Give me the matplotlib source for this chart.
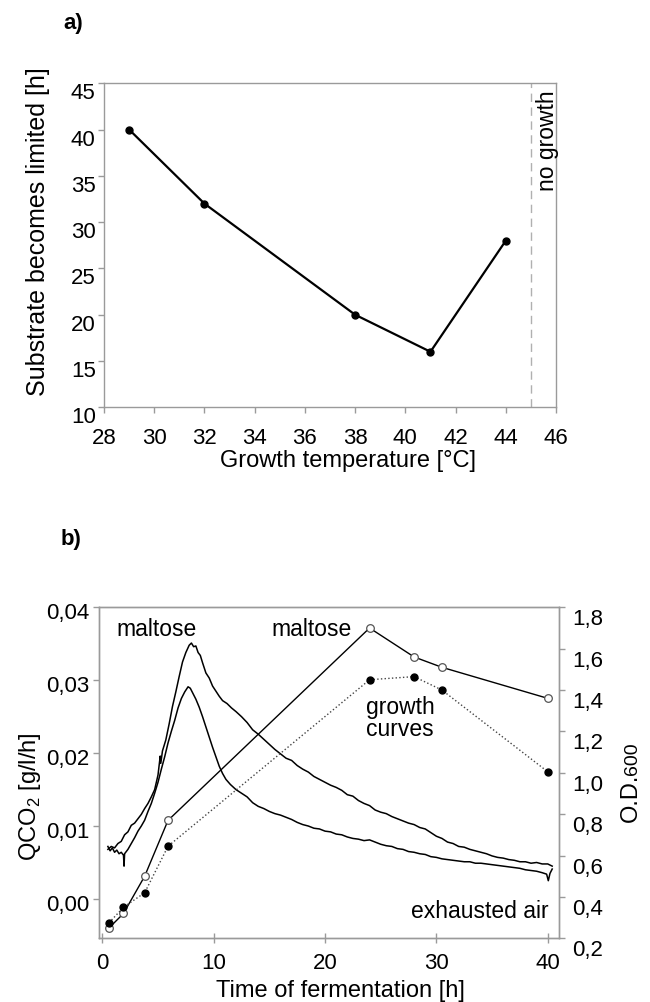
import numpy as np
import matplotlib
matplotlib.use('Agg')
import matplotlib.pyplot as plt
from matplotlib.transforms import ScaledTranslation

plt.rcParams['font.family'] = ['Liberation Sans', 'DejaVu Sans']
plt.rcParams['mathtext.fontset'] = 'custom'
plt.rcParams['mathtext.rm'] = 'Liberation Sans'

# ---- panel a data ----
temp = [29, 32, 38, 41, 44]
limit_h = [40, 32, 20, 16, 28]
temp_ticks = list(range(28, 47, 2))
limit_ticks = list(range(10, 46, 5))

# ---- panel b data: O.D. growth curves ----
od_t_open = [0.6, 1.9, 3.8, 5.9, 24.0, 28.0, 30.5, 40.0]
od_open = [0.25, 0.32, 0.50, 0.77, 1.70, 1.56, 1.51, 1.36]
od_t_fill = [0.6, 1.9, 3.8, 5.9, 24.0, 28.0, 30.5, 40.0]
od_fill = [0.275, 0.35, 0.42, 0.645, 1.45, 1.465, 1.40, 1.005]

# ---- panel b data: QCO2 traces ----
q_upper_t = [0.5, 0.8, 1.1, 1.4, 1.7, 2.0, 2.3, 2.6, 2.9, 3.2, 3.5, 3.8, 4.1, 4.4,
             4.7, 5.0, 5.2, 5.25, 5.4, 5.7, 6.0, 6.3, 6.6, 6.9, 7.2, 7.5, 7.8, 8.0,
             8.2, 8.4, 8.6, 8.8, 9.0, 9.3, 9.6, 9.9, 10.2, 10.5, 10.8, 11.2, 11.6,
             12.0, 12.5, 13.0, 13.5, 14.0, 14.5, 15.0, 15.5, 16.0, 16.5, 17.0, 17.5,
             18.0, 18.5, 19.0, 19.5, 20.0, 20.5, 21.0, 21.5, 22.0, 22.5, 23.0, 23.5,
             24.0, 24.5, 25.0, 25.5, 26.0, 26.5, 27.0, 27.5, 28.0, 28.5, 29.0, 29.5,
             30.0, 30.5, 31.0, 31.5, 32.0, 32.5, 33.0, 33.5, 34.0, 34.5, 35.0, 35.5,
             36.0, 36.5, 37.0, 37.5, 38.0, 38.5, 39.0, 39.5, 40.0, 40.4]
q_upper = [0.0068, 0.0072, 0.0070, 0.0076, 0.0079, 0.0088, 0.0092, 0.0101, 0.0104,
           0.0110, 0.0116, 0.0124, 0.0131, 0.0140, 0.0150, 0.0170, 0.0196, 0.0186,
           0.0203, 0.0218, 0.0240, 0.0264, 0.0284, 0.0305, 0.0325, 0.0338, 0.0348,
           0.0351, 0.0346, 0.0347, 0.0338, 0.0334, 0.0324, 0.0310, 0.0303, 0.0292,
           0.0285, 0.0278, 0.0272, 0.0268, 0.0262, 0.0257, 0.0250, 0.0242, 0.0232,
           0.0226, 0.0219, 0.0212, 0.0205, 0.0199, 0.0193, 0.0190, 0.0183, 0.0178,
           0.0174, 0.0168, 0.0164, 0.0160, 0.0156, 0.0153, 0.0149, 0.0143, 0.0141,
           0.0135, 0.0131, 0.0128, 0.0122, 0.0119, 0.0117, 0.0113, 0.0110, 0.0107,
           0.0104, 0.0102, 0.0098, 0.0096, 0.0091, 0.0086, 0.0083, 0.0078, 0.0076,
           0.0072, 0.0071, 0.0068, 0.0066, 0.0064, 0.0062, 0.0059, 0.0057, 0.0056,
           0.0054, 0.0053, 0.0051, 0.0051, 0.0049, 0.0050, 0.0048, 0.0048, 0.0045]

q_lower_t = [0.5, 0.7, 0.9, 1.1, 1.3, 1.5, 1.7, 1.9, 1.95, 2.0, 2.3, 2.6, 2.9, 3.2,
             3.5, 3.8, 4.1, 4.4, 4.7, 5.0, 5.3, 5.6, 5.9, 6.2, 6.5, 6.8, 7.1, 7.4,
             7.7, 7.9, 8.1, 8.4, 8.7, 9.0, 9.3, 9.6, 9.9, 10.2, 10.5, 10.8, 11.1,
             11.5, 12.0, 12.5, 13.0, 13.5, 14.0, 14.5, 15.0, 15.5, 16.0, 16.5, 17.0,
             17.5, 18.0, 18.5, 19.0, 19.5, 20.0, 20.5, 21.0, 21.5, 22.0, 22.5, 23.0,
             23.5, 24.0, 24.5, 25.0, 25.5, 26.0, 26.5, 27.0, 27.5, 28.0, 28.5, 29.0,
             29.5, 30.0, 30.5, 31.0, 31.5, 32.0, 32.5, 33.0, 33.5, 34.0, 34.5, 35.0,
             35.5, 36.0, 36.5, 37.0, 37.5, 38.0, 38.5, 39.0, 39.5, 39.9, 40.05, 40.2,
             40.4]
q_lower = [0.0072, 0.0066, 0.0070, 0.0064, 0.0067, 0.0062, 0.0064, 0.0060, 0.0045,
           0.0062, 0.0068, 0.0076, 0.0084, 0.0093, 0.0100, 0.0108, 0.0120, 0.0131,
           0.0145, 0.0160, 0.0178, 0.0195, 0.0214, 0.0230, 0.0245, 0.0262, 0.0275,
           0.0284, 0.0291, 0.0289, 0.0283, 0.0274, 0.0263, 0.0250, 0.0236, 0.0222,
           0.0208, 0.0195, 0.0182, 0.0172, 0.0164, 0.0157, 0.0150, 0.0145, 0.0140,
           0.0132, 0.0127, 0.0124, 0.0120, 0.0117, 0.0115, 0.0112, 0.0109, 0.0105,
           0.0102, 0.0100, 0.0097, 0.0096, 0.0093, 0.0092, 0.0089, 0.0088, 0.0085,
           0.0083, 0.0082, 0.0080, 0.0081, 0.0078, 0.0075, 0.0073, 0.0072, 0.0069,
           0.0068, 0.0065, 0.0064, 0.0062, 0.0061, 0.0058, 0.0057, 0.0055, 0.0054,
           0.0053, 0.0052, 0.0051, 0.0051, 0.0049, 0.0049, 0.0048, 0.0047, 0.0046,
           0.0045, 0.0044, 0.0043, 0.0042, 0.0040, 0.0039, 0.0038, 0.0036, 0.0034,
           0.0025, 0.0035, 0.0041]

time_ticks = [0, 10, 20, 30, 40]
q_ticks = [0.0, 0.01, 0.02, 0.03, 0.04]
q_ticklabels = ['0,00', '0,01', '0,02', '0,03', '0,04']
od_ticks = [0.2, 0.4, 0.6, 0.8, 1.0, 1.2, 1.4, 1.6, 1.8]
od_ticklabels = ['0,2', '0,4', '0,6', '0,8', '1,0', '1,2', '1,4', '1,6', '1,8']

FS_TICK = 16
FS_TXT = 16.5
FS_LAB = 17
GRAY = '#9a9a9a'

fig = plt.figure(figsize=(6.5, 10.03), dpi=100)


def style_spines(ax):
    for s in ax.spines.values():
        s.set_color(GRAY)
        s.set_linewidth(1.0)


def shift_labels(labels, dy_px):
    off = ScaledTranslation(0, -dy_px / 100.0, fig.dpi_scale_trans)
    for lab in labels:
        lab.set_transform(lab.get_transform() + off)


# ---------------- panel a ----------------
ax1 = fig.add_axes([0.160, 0.5929, 0.6954, 0.3231])
ax1.plot(temp, limit_h, '-o', color='black', lw=1.6, ms=5, zorder=3)
ax1.axvline(45, color='#b0b0b0', lw=1.0, ls=(0, (6, 4)))
ax1.text(45.2, 44.3, 'no growth', rotation=90, ha='left', va='top', fontsize=FS_TXT)
ax1.set_xlim(28, 46)
ax1.set_ylim(10, 45)
ax1.set_xticks(temp_ticks)
ax1.set_yticks(limit_ticks)
ax1.tick_params(axis='both', labelsize=FS_TICK, color=GRAY, length=4, width=1)
ax1.tick_params(axis='x', pad=10)
ax1.tick_params(axis='y', pad=2)
style_spines(ax1)
ax1.set_xlabel('Growth temperature [°C]', fontsize=FS_LAB)
ax1.xaxis.set_label_coords(0.54, -0.13)
ax1.set_ylabel('Substrate becomes limited [h]', fontsize=18)
ax1.yaxis.set_label_coords(-0.12, 0.545)
shift_labels(ax1.get_yticklabels(), 7)

# ---------------- panel b ----------------
ax2 = fig.add_axes([0.1528, 0.0635, 0.7077, 0.3300])
ax2.plot(q_upper_t, q_upper, '-', color='black', lw=1.1)
ax2.plot(q_lower_t, q_lower, '-', color='black', lw=1.1)
ax2.set_xlim(-0.27, 41.04)
ax2.set_ylim(-0.0054, 0.04)
ax2.set_xticks(time_ticks)
ax2.set_yticks(q_ticks, q_ticklabels)
ax2.tick_params(axis='both', labelsize=FS_TICK, color=GRAY, width=1)
ax2.tick_params(axis='x', direction='inout', length=7, pad=6)
ax2.tick_params(axis='y', length=4, pad=3)
style_spines(ax2)
ax2.set_xlabel('Time of fermentation [h]', fontsize=FS_LAB)
ax2.xaxis.set_label_coords(0.525, -0.122)
ax2.set_ylabel(r'QCO$_{2}$ [g/l/h]', fontsize=FS_LAB)
ax2.yaxis.set_label_coords(-0.122, 0.43)
shift_labels(ax2.get_yticklabels(), 3)

ax3 = ax2.twinx()
ax3.plot(od_t_open, od_open, '-o', color='black', lw=1.0, ms=5.5,
         mfc='white', mec='#555555', mew=0.9, zorder=3)
ax3.plot(od_t_fill, od_fill, ':o', color='#444444', lw=1.0, ms=5,
         mfc='black', mec='black', zorder=3)
ax3.set_ylim(0.2, 1.8)
ax3.set_yticks(od_ticks, od_ticklabels)
ax3.tick_params(axis='y', labelsize=FS_TICK, color=GRAY, length=4, width=1, pad=5)
style_spines(ax3)
shift_labels(ax3.get_yticklabels(), 9)

# right axis title "O.D.600" with a smaller 600 on the same baseline
ax3.text(1.169, 0.355, 'O.D.', transform=ax3.transAxes, rotation=90,
         rotation_mode='anchor', ha='left', va='baseline', fontsize=17)
ax3.text(1.169, 0.495, '600', transform=ax3.transAxes, rotation=90,
         rotation_mode='anchor', ha='left', va='baseline', fontsize=14)

ax2.text(4.9, 0.0371, 'maltose', ha='center', va='center', fontsize=FS_TXT)
ax2.text(18.8, 0.0371, 'maltose', ha='center', va='center', fontsize=FS_TXT)
ax2.text(23.7, 0.0249, 'growth\ncurves', ha='left', va='center', fontsize=FS_TXT,
         linespacing=0.9)
ax2.text(40.05, -0.0016, 'exhausted air', ha='right', va='center', fontsize=FS_TXT)

fig.text(0.112, 0.977, 'a)', fontsize=FS_TICK, fontweight='bold', ha='center', va='center')
fig.text(0.110, 0.4623, 'b)', fontsize=FS_TICK, fontweight='bold', ha='center', va='center')

fig.savefig('out.png', dpi=100)
